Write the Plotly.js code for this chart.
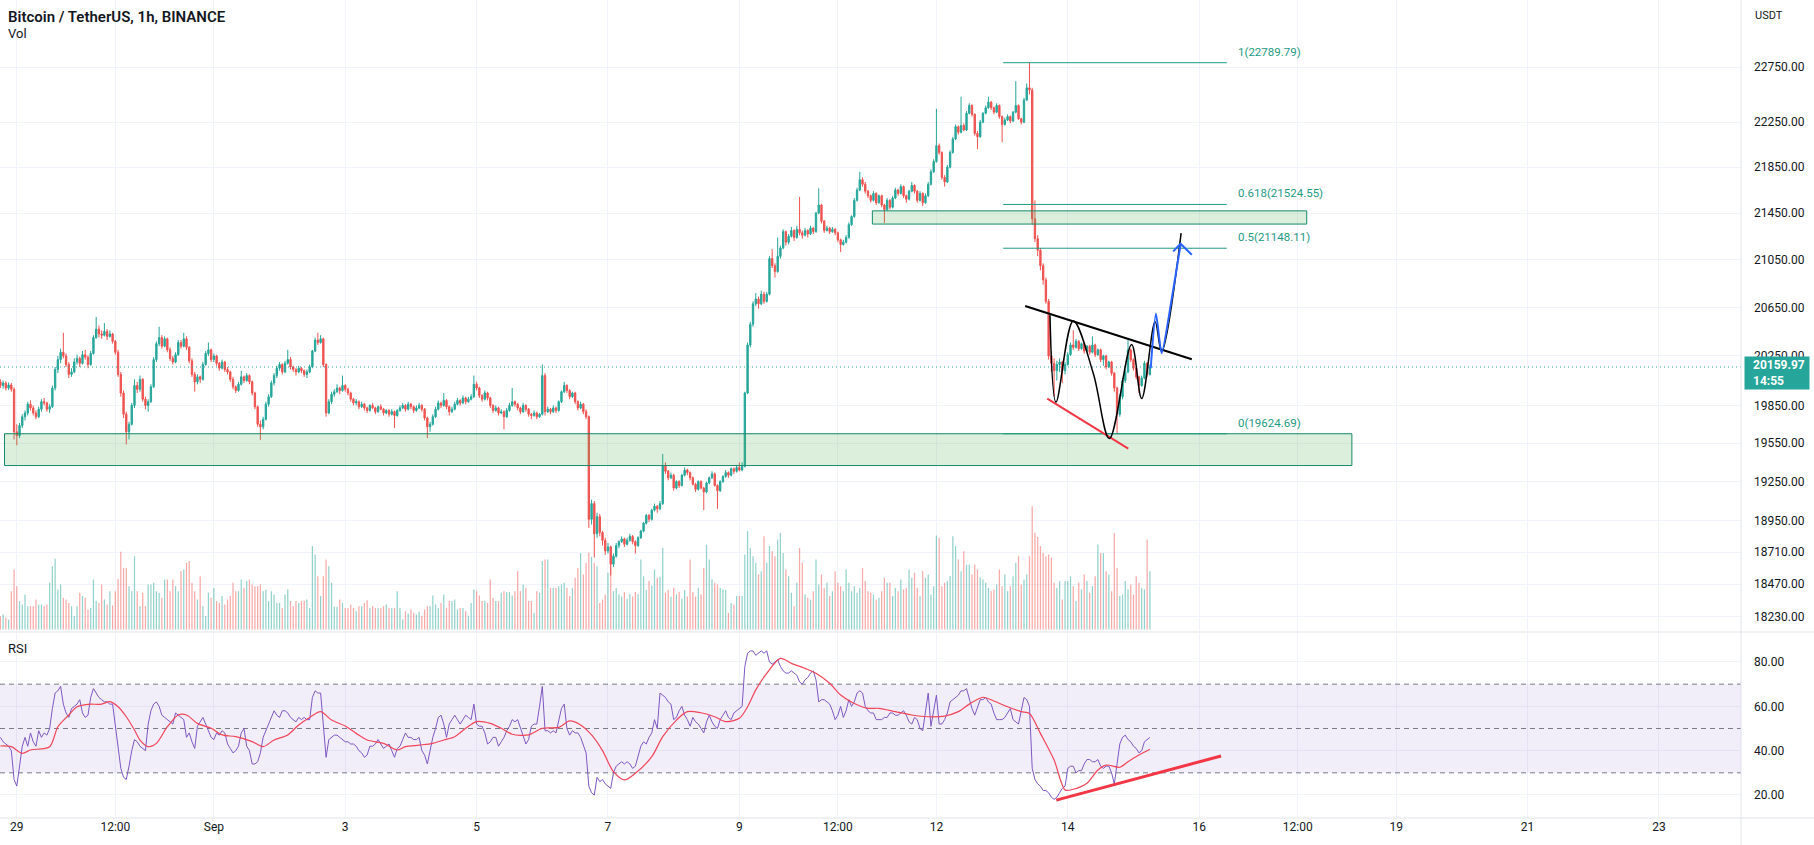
<!DOCTYPE html>
<html><head><meta charset="utf-8">
<script src="https://cdn.plot.ly/plotly-3.0.1.min.js"></script>
<style>html,body{margin:0;padding:0;background:#fff;overflow:hidden}#chart{width:1814px;height:845px}</style>
</head><body><div id="chart"></div>
<script>
// Bars are hourly; hour index 0 = 29 Aug 00:00, first bar at hour -6
const firstHour = -6;

const open = [
20040,20010,20030,19990,20015,19980,
19640,19610,19690,19760,19790,19860,19830,19790,19760,19820,
19880,19870,19820,19840,19990,20140,20220,20280,20250,20180,
20100,20120,20200,20230,20190,20260,20240,20180,20270,20400,
20470,20430,20420,20450,20410,20430,20370,20280,20100,19950,
19780,19640,19700,19850,20010,19980,20060,19900,19850,19880,
20000,20220,20350,20400,20330,20390,20300,20230,20200,20260,
20360,20330,20390,20320,20210,20100,20040,20080,20060,20180,
20270,20300,20220,20250,20190,20150,20200,20140,20120,20060,
20000,19970,20020,20080,20050,20090,20040,19950,19840,19700,
19680,19740,19860,19920,20030,20090,20150,20180,20120,20190,
20220,20160,20140,20120,20150,20130,20100,20120,20160,20290,
20380,20360,20390,20180,19790,19880,19940,19960,19990,19970,
20010,19980,19950,19900,19870,19880,19840,19860,19830,19810,
19850,19830,19800,19840,19820,19790,19810,19780,19800,19770,
19810,19830,19850,19820,19860,19840,19810,19830,19850,19820,
19750,19680,19700,19760,19820,19870,19850,19890,19840,19800,
19820,19860,19890,19870,19910,19880,19900,19920,20020,19990,
19930,19900,19950,19910,19850,19810,19830,19790,19800,19760,
19810,19850,19880,19860,19830,19800,19850,19820,19780,19770,
19790,19760,19780,20090,19800,19820,19800,19830,19810,19880,
19960,20010,19970,19920,19950,19880,19830,19860,19800,19760,
18960,19080,18850,18980,18860,18800,18720,18750,18620,18680,
18760,18790,18810,18770,18800,18830,18790,18760,18820,18870,
18930,18990,18960,19030,19060,19040,19080,19370,19330,19280,
19300,19200,19250,19220,19300,19340,19320,19280,19230,19190,
19250,19200,19170,19240,19280,19310,19220,19180,19250,19290,
19320,19300,19350,19330,19360,19340,19370,19950,20340,20510,
20680,20720,20680,20760,20700,20760,21060,21000,20950,21080,
21150,21290,21200,21250,21300,21240,21310,21280,21260,21300,
21270,21320,21290,21450,21520,21380,21300,21320,21290,21310,
21280,21220,21180,21200,21240,21350,21420,21560,21650,21740,
21700,21640,21600,21560,21620,21540,21600,21520,21480,21560,
21500,21580,21650,21620,21680,21600,21570,21640,21690,21640,
21560,21620,21540,21600,21700,21810,21900,22040,21980,21760,
21720,21850,21980,22100,22210,22160,22220,22180,22330,22400,
22320,22150,22120,22250,22330,22380,22430,22380,22340,22400,
22300,22230,22270,22300,22260,22340,22400,22280,22250,22450,
22560,22540,21400,21230,21130,21000,20880,20700,20250,20190,
20130,20180,20200,20130,20180,20260,20340,20320,20370,20310,
20350,20290,20330,20280,20340,20260,20300,20220,20250,20160,
20200,20110,19990,19780,19920,20050,20120,20300,20220,20150,
20080,20010,20070,20190,20100
];

const high = [
20060,20050,20045,20035,20030,19995,
19700,19710,19780,19810,19880,19890,19850,19810,19840,19900,
19910,19880,19860,20010,20160,20250,20310,20440,20270,20200,
20150,20230,20260,20245,20290,20300,20255,20290,20420,20570,
20500,20460,20520,20470,20460,20440,20380,20300,20120,19970,
19800,19720,19870,20060,20040,20090,20070,19920,19900,20020,
20240,20370,20490,20420,20410,20400,20320,20250,20280,20380,
20380,20440,20410,20330,20230,20120,20100,20090,20200,20290,
20360,20310,20270,20260,20200,20220,20210,20160,20130,20080,
20010,20040,20130,20090,20110,20100,20050,19960,19850,19730,
19760,19880,19940,20050,20110,20170,20200,20190,20210,20300,
20240,20170,20150,20170,20160,20140,20140,20180,20300,20400,
20440,20420,20400,20190,19900,19960,19980,20020,20000,20090,
20020,19990,19960,19910,19900,19890,19880,19870,19840,19860,
19870,19840,19850,19860,19830,19820,19820,19820,19810,19820,
19850,19870,19860,19880,19870,19850,19850,19870,19860,19830,
19760,19720,19780,19840,19890,19880,19950,19900,19850,19840,
19880,19910,19900,19930,19920,19920,19940,20090,20040,20000,
19940,19970,19960,19920,19860,19850,19840,19820,19810,19830,
19870,19990,19890,19870,19840,19870,19860,19830,19790,19810,
19800,19790,20180,20110,19840,19830,19850,19840,19890,19970,
20040,20020,19980,19960,19960,19890,19880,19870,19820,19770,
19110,19100,19010,19000,18870,18820,18780,18760,18700,18780,
18800,18830,18820,18820,18850,18840,18800,18830,18880,18940,
19000,19000,19040,19080,19070,19100,19466,19400,19340,19320,
19310,19260,19260,19310,19360,19350,19330,19290,19240,19260,
19260,19210,19250,19290,19330,19320,19230,19260,19300,19340,
19330,19360,19360,19380,19400,19400,19960,20360,20530,20700,
20770,20740,20790,20780,20780,21080,21140,21020,21240,21170,
21310,21300,21270,21330,21310,21340,21590,21300,21320,21310,
21340,21330,21460,21665,21530,21390,21340,21330,21330,21320,
21290,21230,21220,21260,21370,21430,21580,21670,21810,21760,
21720,21650,21610,21640,21630,21610,21610,21530,21580,21570,
21600,21670,21660,21700,21690,21610,21650,21720,21700,21650,
21640,21630,21620,21720,21830,21920,22370,22060,21990,21780,
21870,22000,22120,22230,22220,22480,22240,22350,22420,22410,
22330,22170,22270,22340,22400,22480,22440,22390,22420,22410,
22310,22290,22320,22310,22350,22620,22410,22290,22470,22600,
22790,22560,21560,21260,21150,21020,20900,20720,20290,20230,
20210,20230,20210,20200,20280,20360,20460,20390,20380,20360,
20360,20340,20340,20410,20350,20310,20310,20260,20260,20210,
20210,20120,20000,19940,20070,20140,20380,20310,20230,20160,
20090,20090,20210,20200,20180
];

const low = [
19990,19985,19970,19975,19960,19580,
19534,19590,19670,19730,19770,19810,19770,19740,19750,19800,
19850,19800,19790,19830,19970,20110,20190,20230,20160,20070,
20080,20110,20180,20160,20180,20220,20150,20170,20260,20390,
20400,20390,20410,20380,20400,20350,20260,20080,19920,19750,
19540,19580,19690,19830,19950,19960,19880,19820,19800,19870,
19990,20200,20330,20310,20320,20280,20210,20180,20190,20250,
20310,20320,20300,20190,20080,19960,20020,20030,20050,20170,
20250,20200,20200,20170,20130,20140,20120,20100,20040,19980,
19950,19960,20010,20030,20040,20020,19930,19820,19680,19575,
19660,19730,19840,19910,20010,20070,20130,20100,20110,20180,
20140,20120,20090,20110,20110,20080,20070,20110,20150,20280,
20340,20350,20160,19760,19780,19860,19920,19950,19940,19960,
19960,19930,19880,19850,19850,19820,19830,19810,19790,19800,
19820,19780,19790,19810,19770,19780,19760,19770,19670,19760,
19800,19820,19800,19810,19820,19790,19800,19820,19800,19730,
19590,19640,19690,19750,19810,19830,19840,19820,19770,19790,
19810,19850,19850,19860,19860,19870,19890,19910,19970,19910,
19880,19890,19890,19830,19790,19800,19770,19780,19660,19750,
19800,19840,19840,19810,19780,19790,19800,19760,19740,19760,
19740,19750,19770,19770,19790,19780,19790,19790,19800,19870,
19950,19950,19900,19910,19860,19810,19820,19780,19740,18894,
18920,18670,18820,18830,18760,18690,18700,18535,18600,18670,
18740,18780,18750,18760,18790,18770,18700,18750,18810,18860,
18920,18940,18950,19020,19010,19030,19070,19310,19260,19270,
19180,19190,19200,19210,19290,19300,19260,19220,19170,19180,
19190,19030,19160,19230,19270,19210,19040,19170,19240,19280,
19280,19290,19310,19320,19330,19330,19360,19940,20320,20490,
20660,20640,20670,20680,20690,20750,20980,20900,20940,21060,
21140,21170,21180,21240,21210,21230,21260,21230,21250,21240,
21260,21270,21280,21440,21360,21280,21290,21270,21280,21260,
21200,21115,21170,21190,21230,21340,21410,21550,21640,21680,
21620,21580,21540,21550,21520,21530,21500,21365,21470,21480,
21490,21570,21600,21610,21580,21540,21560,21630,21620,21540,
21550,21510,21530,21590,21690,21800,21890,21960,21740,21680,
21710,21840,21970,22090,22140,22150,22170,22170,22320,22300,
22130,22010,22110,22240,22320,22370,22360,22320,22330,22280,
22070,22220,22260,22240,22250,22330,22270,22230,22240,22440,
22500,21350,21200,21080,20960,20840,20680,20220,20120,19920,
20050,20120,20030,20100,20170,20250,20300,20310,20290,20300,
20270,20280,20260,20270,20240,20250,20200,20170,20140,20150,
20090,19960,19625,19760,19900,20030,20110,20200,20130,20060,
19950,20000,20060,20080,20090
];

const close = [
20010,20030,19990,20015,19980,19640,
19610,19690,19760,19790,19860,19830,19790,19760,19820,19880,
19870,19820,19840,19990,20140,20220,20280,20250,20180,20100,
20120,20200,20230,20190,20260,20240,20180,20270,20400,20470,
20430,20420,20450,20410,20430,20370,20280,20100,19950,19780,
19640,19700,19850,20010,19980,20060,19900,19850,19880,20000,
20220,20350,20400,20330,20390,20300,20230,20200,20260,20360,
20330,20390,20320,20210,20100,20040,20080,20060,20180,20270,
20300,20220,20250,20190,20150,20200,20140,20120,20060,20000,
19970,20020,20080,20050,20090,20040,19950,19840,19700,19680,
19740,19860,19920,20030,20090,20150,20180,20120,20190,20220,
20160,20140,20120,20150,20130,20100,20120,20160,20290,20380,
20360,20390,20180,19790,19880,19940,19960,19990,19970,20010,
19980,19950,19900,19870,19880,19840,19860,19830,19810,19850,
19830,19800,19840,19820,19790,19810,19780,19800,19770,19810,
19830,19850,19820,19860,19840,19810,19830,19850,19820,19750,
19680,19700,19760,19820,19870,19850,19890,19840,19800,19820,
19860,19890,19870,19910,19880,19900,19920,20020,19990,19930,
19900,19950,19910,19850,19810,19830,19790,19800,19760,19810,
19850,19880,19860,19830,19800,19850,19820,19780,19770,19790,
19760,19780,20090,19800,19820,19800,19830,19810,19880,19960,
20010,19970,19920,19950,19880,19830,19860,19800,19760,18960,
19080,18850,18980,18860,18800,18720,18750,18620,18680,18760,
18790,18810,18770,18800,18830,18790,18760,18820,18870,18930,
18990,18960,19030,19060,19040,19080,19370,19330,19280,19300,
19200,19250,19220,19300,19340,19320,19280,19230,19190,19250,
19200,19170,19240,19280,19310,19220,19180,19250,19290,19320,
19300,19350,19330,19360,19340,19370,19950,20340,20510,20680,
20720,20680,20760,20700,20760,21060,21000,20950,21080,21150,
21290,21200,21250,21300,21240,21310,21280,21260,21300,21270,
21320,21290,21450,21520,21380,21300,21320,21290,21310,21280,
21220,21180,21200,21240,21350,21420,21560,21650,21740,21700,
21640,21600,21560,21620,21540,21600,21520,21480,21560,21500,
21580,21650,21620,21680,21600,21570,21640,21690,21640,21560,
21620,21540,21600,21700,21810,21900,22040,21980,21760,21720,
21850,21980,22100,22210,22160,22220,22180,22330,22400,22320,
22150,22120,22250,22330,22380,22430,22380,22340,22400,22300,
22230,22270,22300,22260,22340,22400,22280,22250,22450,22560,
22540,21400,21230,21130,21000,20880,20700,20250,20190,20130,
20180,20200,20130,20180,20260,20340,20320,20370,20310,20350,
20290,20330,20280,20340,20260,20300,20220,20250,20160,20200,
20110,19990,19780,19920,20050,20120,20300,20220,20150,20080,
20010,20070,20190,20100,20159.97
];

// volume, thousand BTC per hour
const volume = [
6,6.8,5.5,4.5,17.4,27.3,
19.7,12.9,11.4,15.9,10.6,10.6,10.6,13.6,11.4,11.4,
10.6,11.4,21.2,28.8,32.1,18.2,20.5,14.4,13.6,12.1,
10.6,6.1,10.6,16.7,15.2,14.4,9.1,9.8,22.7,12.9,
12.1,20.5,13.6,11.4,17.4,10.9,17.4,23,35.3,28,
28,19.7,17.4,33.3,17.4,10.6,16.7,10.6,20.5,20.5,
21.2,17.4,16.7,14.4,22.7,22.7,17.4,22.7,19.7,17.4,
26.5,27.3,30.3,31.1,21.2,17.4,13.6,24.2,10.6,6.1,
16.7,14.4,18.9,12.9,12.1,15.2,11.4,13.6,15.2,21.2,
17.4,17.4,22.7,18.9,22,22.7,20.5,19.7,19.7,20.5,
17.4,18.2,12.9,17.4,15.9,12.1,12.1,9.8,15.9,18.2,
12.9,10.6,12.9,12.1,12.9,12.9,13.6,9.8,37.9,34.1,
24.2,15.2,24.2,31.8,28.8,21.2,10.3,10.3,13.6,12.1,
9.8,9.8,11.4,9.8,8.3,10.6,10.6,12.1,13.3,9.8,
10.6,9.8,9.8,9.8,10.6,11.4,9.8,9.8,9.8,17.4,
9.8,4.5,8.3,7.3,9.1,7.6,6.8,7.9,6.1,9.1,
10.6,10.6,15.5,11.4,9.8,12.1,15.9,9.8,12.9,12.9,
13.6,9.1,9.8,9.8,8.3,6.1,12.1,18.2,17.4,15.5,
12.9,12.9,12.1,22.7,14.4,12.9,12.9,16.7,17.4,17,
17,15.5,17.4,26.5,17.4,20.5,18.9,12.9,12.9,7.6,
17.4,16.7,31.1,31.8,31.8,18.9,18.9,18.9,19.7,20.5,
21.2,18.9,15.2,18.9,23.5,28,34.8,25,30.3,35,
33,30.3,28.8,12.1,13.6,15.9,25.8,28.8,17.4,18.9,
16,15,17,14,16,15,17,16,31.8,24.2,
18,22,20,27.3,23.5,24,37.1,16.7,18,15,
19,16,17,14,18,15,31.8,17,15,19,
16,28,38.6,31.8,22.7,21.2,20.5,19,18.2,17.9,
7.6,12.1,11.4,15.2,15.2,15.2,34.1,44.7,37.1,33.3,
30.3,25,26.5,42.4,30.3,37.9,35.6,33.3,40.9,43.9,
34.8,27.3,24.2,16.7,10.6,21.2,37.1,30.3,15.9,14.4,
13.6,17.4,31.8,20.5,25,18.9,21.2,15.2,17.4,26.5,
21.2,19.7,17.4,27.3,21.2,17.4,19.7,16.7,18.9,28,
22,17.4,16.7,15.9,13.6,14.4,17.4,23.5,21.2,21.2,
15.2,18.9,17.4,22.7,18.2,18.9,27.3,23.5,25.8,18.9,
15.2,26.5,23.5,25,15.9,19.7,42.7,41.7,19.7,21.2,
22,24.2,42.4,37.9,31.8,26.5,35.6,29.5,29.5,25,
29.5,27.3,23.5,22.7,21.2,18.9,17.4,18.2,20.5,27.3,
19.7,25,17.4,19.7,24.2,30.3,33.3,20.5,22.7,25,
33.3,56,44,42,37.9,34.8,33.3,34.1,32.6,21.2,
18.9,22,13.6,22,22,24.2,19.7,12.9,21.2,18.2,
25,22,16.7,19.7,24.2,38.6,34.8,34.8,26.5,25,
17.4,43.9,28,15.2,15.9,22,18.2,20.5,15.9,24.2,
21.2,18.9,18.2,40.9,26.5
];

const rsi = [
46,44,43,42,40,27,
24,32,42,46,42,48,44,42,49,46,
48,47,50,59,66,67,69,61,57,55,
59,60,61,63,57,55,56,64,68,66,
64,63,62,62,61,61,51,40,32,28,
27,33,40,45,44,42,41,40,52,58,
61,62,60,56,55,54,53,52,57,56,
55,54,46,48,44,41,51,53,55,52,
49,46,45,48,47,49,48,43,41,39,
40,42,48,50,42,40,34,34,35,39,
46,49,52,55,58,56,55,58,58,57,
55,54,53,55,54,55,54,54,64,67,
66,66,51,37,45,46,47,47,46,45,
44,44,43,43,42,40,39,37,38,42,
42,43,45,43,41,42,43,40,37,41,
42,45,48,46,46,45,45,46,40,38,
34,40,46,50,55,56,52,46,52,54,
56,54,52,54,56,55,54,61,52,51,
51,48,43,44,46,46,42,44,46,49,
51,54,53,54,50,46,43,45,51,52,
52,60,69,49,49,48,49,48,54,59,
61,50,47,49,48,48,46,42,39,24,
21,20,28,26,27,25,24,23,30,33,
34,35,34,35,34,32,33,38,42,44,
43,46,48,54,50,66,65,64,62,61,
54,55,58,60,56,54,51,55,53,52,
50,48,53,56,53,51,50,54,56,58,
55,54,57,58,59,60,78,84,85,85,
83,84,85,84,85,80,79,80,81,78,
76,75,75,76,75,74,71,70,72,73,
75,76,72,62,63,63,62,61,58,54,
56,60,55,58,63,60,62,66,67,66,
60,58,57,57,54,54,54,55,55,57,
57,56,56,57,58,56,53,52,55,54,
50,49,58,66,51,58,65,52,52,54,
57,62,63,64,65,67,67,68,63,59,
56,60,63,63,64,62,61,57,54,54,
54,55,57,59,54,53,52,58,64,63,
60,32,27,25,24,22,22,21,19,18,
19,21,23,24,32,33,33,30,31,31,
34,36,36,35,35,36,33,32,33,33,
30,25,33,43,46,47,45,44,42,41,
39,40,44,45,46
];

const rsiMaHour = [-6,-2,2,5,12,15,19,22,26,31,34,37,40,43,45,48,51,55,59,62,66,71,75,80,86,90,94,99,103,107,111,115,120,124,128,134,139,142,147,152,156,160,164,168,173,177,181,187,192,198,202,206,210,214,218,222,226,232,236,241,245,250,255,259,264,267,270,274,279,283,288,292,297,301,306,311,315,321,327,333,339,344,348,353,357,362,367,370,374,379,383,386,391,395,398,403,406,410,414];
const rsiMa = [42.1,41.8,38.8,40.3,41.8,50.8,56.1,59.8,60.9,61,62.1,59.8,55.3,49.3,44.8,41.8,43.3,50.8,56.1,56.1,52.3,50.1,47.1,46.3,44.1,41.8,44.8,47.1,51.6,55,57.6,53.8,51.1,47.8,44.8,43.3,40.3,41.8,42.5,43.3,44.8,46.3,50.1,53.1,52.3,50.1,47.4,47.1,50.1,50.5,53.4,51.6,47.1,40,30.5,26.8,29.8,37.3,46.3,53.8,57.6,57.1,55.3,53.1,54.6,59.8,67.4,74.9,81.6,79.4,77.1,74.9,70.4,65.1,61.3,59.1,59.1,57.6,56.1,55.3,55.6,57.6,61,64.1,62.4,59.8,57.6,56.8,47.8,35.8,22.3,22.6,25.3,31.3,33.5,32.5,35,38,40.6];

// axis labels
const timeTickHours = [0,36,72,120,168,216,264,300,336,384,432,468,504,552,600];
const timeTickText = ['29','12:00','Sep','3','5','7','9','12:00','12','14','16','12:00','19','21','23'];
const priceTicks = [22750,22250,21850,21450,21050,20650,20250,19850,19550,19250,18950,18710,18470,18230];
const rsiTicks = [20,40,60,80];
const countdownText = '14:55';

// analyst drawings (hour, price)
const fibLevels = [22789.79, 21524.55, 21148.11, 19624.69];
const fibNames = ['1','0.618','0.5','0'];
const fibHours = [360.4, 442.1];
const supportZone = {h0:-4.5, h1:487.8, p0:19375, p1:19625};
const resistZone = {h0:312.6, h1:471.3, p0:21355, p1:21469};
const blackTrendH = [368.4, 429.3], blackTrendP = [20661, 20223];
const redTrendH = [376.5, 406.1], redTrendP = [19905, 19508];
const wPathH = [377.5, 379.7, 386, 393.3, 399.2, 407.3, 411, 415.9, 418.3, 425.4];
const wPathP = [20585, 19877, 20538, 20109, 19587, 20343, 19905, 20530, 20285, 21277];
const bluePathH = [414.3, 416.2, 418.3, 421.9, 425.2];
const bluePathP = [20150, 20599, 20272, 20710, 21178];
const blueHeadH = [422.5, 425.2, 429.3];
const blueHeadP = [21121, 21186, 21093];
const rsiTrendH = [379.8, 440], rsiTrendV = [17.7, 37.6];

const hours = close.map((_, i) => firstHour + i);
const last = close[close.length - 1];
const XR = [-6.14, 629.97];
const UP = '#26a69a', DN = '#ef5350';
const FONT = 'Roboto, "Open Sans", sans-serif';
const TXT = '#131722';
const TEAL = '#1f9a85';

const traces = [];
traces.push({
  type:'candlestick', x:hours, open:open, high:high, low:low, close:close,
  xaxis:'x', yaxis:'y', whiskerwidth:0, hoverinfo:'skip', showlegend:false,
  increasing:{line:{color:UP,width:1}, fillcolor:UP},
  decreasing:{line:{color:DN,width:1}, fillcolor:DN}
});
function box(z){
  return {type:'scatter', mode:'lines', x:[z.h0,z.h1,z.h1,z.h0,z.h0], y:[z.p0,z.p0,z.p1,z.p1,z.p0],
    fill:'toself', fillcolor:'rgba(76,175,80,0.2)', line:{color:'#14896b',width:1},
    xaxis:'x', yaxis:'y', hoverinfo:'skip', showlegend:false};
}
traces.push(box(supportZone));
traces.push(box(resistZone));
const fx = [], fy = [];
fibLevels.forEach(l => { fx.push(fibHours[0], fibHours[1], null); fy.push(l, l, null); });
traces.push({type:'scatter', mode:'lines', x:fx, y:fy, line:{color:TEAL,width:1}, xaxis:'x', yaxis:'y', hoverinfo:'skip', showlegend:false});
traces.push({type:'scatter', mode:'lines', x:XR, y:[last,last], line:{color:UP,width:1,dash:'1px,3px'}, xaxis:'x', yaxis:'y', hoverinfo:'skip', showlegend:false});
traces.push({type:'scatter', mode:'lines', x:blackTrendH, y:blackTrendP, line:{color:'#000',width:2}, xaxis:'x', yaxis:'y', hoverinfo:'skip', showlegend:false});
traces.push({type:'scatter', mode:'lines', x:redTrendH, y:redTrendP, line:{color:'#f23645',width:2}, xaxis:'x', yaxis:'y', hoverinfo:'skip', showlegend:false});
traces.push({type:'scatter', mode:'lines', x:wPathH, y:wPathP, line:{color:'#000',width:1.5,shape:'spline',smoothing:1}, xaxis:'x', yaxis:'y', hoverinfo:'skip', showlegend:false});
traces.push({type:'scatter', mode:'lines', x:bluePathH, y:bluePathP, line:{color:'#2962ff',width:2,shape:'spline',smoothing:0.6}, xaxis:'x', yaxis:'y', hoverinfo:'skip', showlegend:false});
traces.push({type:'scatter', mode:'lines', x:blueHeadH, y:blueHeadP, line:{color:'#2962ff',width:2}, xaxis:'x', yaxis:'y', hoverinfo:'skip', showlegend:false});
traces.push({
  type:'bar', x:hours, y:volume, width:0.45, xaxis:'x', yaxis:'y3', hoverinfo:'skip', showlegend:false,
  marker:{color:close.map((c,i) => c >= open[i] ? 'rgba(38,166,154,0.5)' : 'rgba(239,83,80,0.5)'), line:{width:0}}
});
// RSI pane
traces.push({type:'scatter', mode:'lines', x:[XR[0],XR[1],XR[1],XR[0],XR[0]], y:[30,30,70,70,30], fill:'toself', fillcolor:'rgba(126,87,194,0.1)', line:{width:0}, xaxis:'x', yaxis:'y2', hoverinfo:'skip', showlegend:false});
[70,50,30].forEach(v => traces.push({type:'scatter', mode:'lines', x:XR, y:[v,v], line:{color:'#787b86',width:1,dash:'5px,4px'}, xaxis:'x', yaxis:'y2', hoverinfo:'skip', showlegend:false}));
traces.push({type:'scatter', mode:'lines', x:hours, y:rsi, line:{color:'#7e57c2',width:1}, xaxis:'x', yaxis:'y2', hoverinfo:'skip', showlegend:false});
traces.push({type:'scatter', mode:'lines', x:rsiMaHour, y:rsiMa, line:{color:'#f0455a',width:1.2,shape:'spline',smoothing:0.8}, xaxis:'x', yaxis:'y2', hoverinfo:'skip', showlegend:false});
traces.push({type:'scatter', mode:'lines', x:rsiTrendH, y:rsiTrendV, line:{color:'#f23645',width:3}, xaxis:'x', yaxis:'y2', hoverinfo:'skip', showlegend:false});

const PLOT_H = 818, PRICE_BOTTOM = 631, RSI_TOP = 633;
const annotations = [
  {xref:'paper', yref:'paper', x:0, y:1, xanchor:'left', yanchor:'top', xshift:6, yshift:-6, showarrow:false,
   text:'Bitcoin / TetherUS, 1h, BINANCE', font:{family:FONT, size:15, color:TXT, weight:600}},
  {xref:'paper', yref:'paper', x:0, y:1, xanchor:'left', yanchor:'top', xshift:6, yshift:-24, showarrow:false,
   text:'Vol', font:{family:FONT, size:13, color:TXT}},
  {xref:'paper', yref:'paper', x:0, y:(PLOT_H-RSI_TOP)/PLOT_H, xanchor:'left', yanchor:'top', xshift:6, yshift:-6, showarrow:false,
   text:'RSI', font:{family:FONT, size:13, color:TXT}},
  {xref:'paper', yref:'paper', x:1, y:1, xanchor:'left', yanchor:'top', xshift:12, yshift:-7, showarrow:false,
   text:'USDT', font:{family:FONT, size:11, color:TXT}},
  // current price label: box, then text
  {xref:'paper', yref:'y', x:1, y:Math.log10(last), xanchor:'left', yanchor:'middle', xshift:3, yshift:-6.5, showarrow:false,
   text:' ', bgcolor:UP, borderpad:4, width:56, height:24, font:{family:FONT, size:12, color:'#ffffff'}},
  {xref:'paper', yref:'y', x:1, y:Math.log10(last), xanchor:'left', yanchor:'middle', xshift:10, yshift:-6.5, showarrow:false,
   text:'<b>'+last.toFixed(2)+'</b><br><b>'+countdownText+'</b>', align:'left', font:{family:FONT, size:12, color:'#ffffff'}}
];
fibLevels.forEach((l,i) => annotations.push({
  xref:'x', yref:'y', x:445.3, y:Math.log10(l), xanchor:'left', yanchor:'bottom', yshift:2, showarrow:false,
  text:fibNames[i]+'('+l.toFixed(2)+')', font:{family:FONT, size:11.5, color:TEAL}
}));

const BORDER = '#e0e3eb';
const fullW = 1814/1741;
const shapes = [
  {type:'line', xref:'paper', yref:'paper', x0:1, x1:1, y0:-27/PLOT_H, y1:1, line:{color:BORDER,width:1}},
  {type:'line', xref:'paper', yref:'paper', x0:0, x1:fullW, y0:0, y1:0, line:{color:BORDER,width:1}},
  {type:'line', xref:'paper', yref:'paper', x0:0, x1:fullW, y0:(PLOT_H-632)/PLOT_H, y1:(PLOT_H-632)/PLOT_H, line:{color:BORDER,width:1}}
];

const tickFont = {family:FONT, size:12, color:TXT};
const layout = {
  width:1814, height:845, margin:{l:0, r:73, t:0, b:27},
  paper_bgcolor:'#ffffff', plot_bgcolor:'#ffffff', showlegend:false,
  xaxis:{range:XR, anchor:'y2', tickmode:'array', tickvals:timeTickHours, ticktext:timeTickText,
    showgrid:true, gridcolor:'#f0f3fa', zeroline:false, showline:false, ticks:'', tickfont:tickFont,
    rangeslider:{visible:false}, fixedrange:true},
  yaxis:{domain:[(PLOT_H-PRICE_BOTTOM)/PLOT_H, 1], type:'log', range:[4.25829, 4.36871], side:'right', anchor:'x',
    tickmode:'array', tickvals:priceTicks, ticktext:priceTicks.map(v => v.toFixed(2)),
    showgrid:true, gridcolor:'#f0f3fa', zeroline:false, showline:false, ticks:'', ticklabelstandoff:12, tickfont:tickFont, fixedrange:true},
  yaxis3:{overlaying:'y', anchor:'x', range:[-0.68, 286.1], visible:false, fixedrange:true},
  yaxis2:{domain:[0, (PLOT_H-RSI_TOP)/PLOT_H], range:[9.62, 93.08], side:'right', anchor:'x',
    tickmode:'array', tickvals:rsiTicks, ticktext:rsiTicks.map(v => v.toFixed(2)),
    showgrid:true, gridcolor:'#f0f3fa', zeroline:false, showline:false, ticks:'', ticklabelstandoff:12, tickfont:tickFont, fixedrange:true},
  annotations:annotations, shapes:shapes
};
Plotly.newPlot('chart', traces, layout, {displayModeBar:false, staticPlot:true});
</script>
</body></html>
